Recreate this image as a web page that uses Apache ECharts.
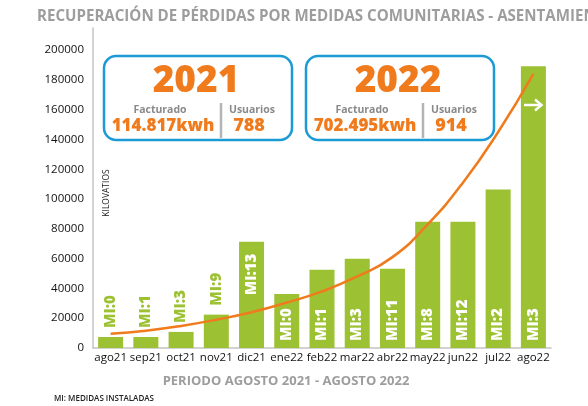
<!DOCTYPE html>
<html>
<head>
<meta charset="utf-8">
<script src="https://cdn.jsdelivr.net/npm/echarts@6/dist/echarts.min.js"></script>
<style>
  html, body { margin: 0; padding: 0; background: #fff; }
  #chart { width: 588px; height: 406px; }
</style>
</head>
<body>
<div id="chart"></div>
<script>
// data
const months = ['ago21', 'sep21', 'oct21', 'nov21', 'dic21', 'ene22', 'feb22', 'mar22', 'abr22', 'may22', 'jun22', 'jul22', 'ago22']
const kwh = [7400, 7400, 10800, 22400, 71400, 36200, 52500, 59900, 53200, 84800, 84800, 106400, 189200]
const medidas = [0, 1, 3, 9, 13, 0, 1, 3, 11, 8, 12, 2, 3]
const trend = [9600, 11600, 14800, 19000, 24000, 30500, 38000, 48000, 61000, 83000, 111000, 145000, 184000]
const yTicks = [0, 20000, 40000, 60000, 80000, 100000, 120000, 140000, 160000, 180000, 200000]

const years = ['2021', '2022']
const facturado = ['114.817kwh', '702.495kwh']
const usuarios = ['788', '914']

const font = '"Open Sans", sans-serif'
const green = '#9cc132'
const orange = '#f07b1d'
const blue = '#1b9ad6'
const gray = '#9d9d9d'

const barData = kwh.map((v, i) => {
  let label
  if (v < 30000) {
    label = { position: 'top', distance: 9, color: green }
  } else if (i === 4) {
    label = { position: 'insideTop', distance: 12, color: '#fff', align: 'right' }
  } else {
    label = { position: 'insideBottom', distance: 7, color: '#fff' }
  }
  return { value: v, label: label }
})

// summary boxes
function box(x, i) {
  const sep = x + 117
  return [
    { type: 'rect', shape: { x: x, y: 56, width: 188, height: 84, r: 12 },
      style: { fill: '#fff', stroke: blue, lineWidth: 2.5 }, z: 10 },
    { type: 'text', x: x + 92, y: 81, z: 11,
      style: { text: years[i], fill: orange, font: '800 37px ' + font, textAlign: 'center', textVerticalAlign: 'middle' } },
    { type: 'text', x: x + 56, y: 110, z: 11,
      style: { text: 'Facturado', fill: '#8a8a8a', font: 'bold 10.5px ' + font, textAlign: 'center', textVerticalAlign: 'middle' } },
    { type: 'text', x: x + 59, y: 126, z: 11,
      style: { text: facturado[i], fill: orange, font: '800 17px ' + font, textAlign: 'center', textVerticalAlign: 'middle' } },
    { type: 'line', shape: { x1: sep, y1: 103, x2: sep, y2: 138 }, z: 11,
      style: { stroke: '#b4b4b4', lineWidth: 2.5 } },
    { type: 'text', x: x + 148, y: 110, z: 11,
      style: { text: 'Usuarios', fill: '#8a8a8a', font: 'bold 10.5px ' + font, textAlign: 'center', textVerticalAlign: 'middle' } },
    { type: 'text', x: x + 145, y: 126, z: 11,
      style: { text: usuarios[i], fill: orange, font: '800 18px ' + font, textAlign: 'center', textVerticalAlign: 'middle' } }
  ]
}

const chart = echarts.init(document.getElementById('chart'))
chart.setOption({
  animation: false,
  textStyle: { fontFamily: font },
  title: {
    text: 'RECUPERACIÓN DE PÉRDIDAS POR MEDIDAS COMUNITARIAS - ASENTAMIENTOS',
    left: 32,
    top: 4,
    textStyle: { fontSize: 15.1, fontWeight: 'bold', color: gray, fontFamily: font }
  },
  grid: { left: 93, right: 37, top: 28, bottom: 58 },
  xAxis: {
    type: 'category',
    data: months,
    axisLine: { lineStyle: { color: '#c4c4c4', width: 1.5 } },
    axisTick: { show: false },
    axisLabel: { color: '#111', fontSize: 11.5, margin: 4, interval: 0 }
  },
  yAxis: {
    type: 'value',
    min: 0,
    max: 214800,
    interval: 20000,
    splitLine: { show: false },
    axisLine: { show: true, lineStyle: { color: '#c4c4c4', width: 1.5 } },
    axisTick: { show: false },
    axisLabel: {
      color: '#111', fontSize: 11.5, margin: 9, showMaxLabel: false,
      padding: [0, 0, 10, 0],
      formatter: v => (yTicks.includes(v) ? String(v) : '')
    }
  },
  series: [
    {
      type: 'bar',
      data: barData,
      barWidth: 25,
      itemStyle: { color: green },
      label: {
        show: true,
        rotate: 90,
        align: 'left',
        verticalAlign: 'middle',
        fontSize: 15,
        fontWeight: 800,
        fontFamily: font,
        formatter: p => 'MI:' + medidas[p.dataIndex]
      }
    },
    {
      type: 'line',
      data: trend,
      smooth: true,
      symbol: 'none',
      z: 5,
      lineStyle: { color: orange, width: 2.5 }
    }
  ],
  graphic: [
    ...box(104, 0),
    ...box(306, 1),
    { type: 'text', x: 107, y: 193, rotation: Math.PI / 2, z: 11,
      style: { text: 'KILOVATIOS', fill: '#222', font: '8.5px ' + font, textAlign: 'center', textVerticalAlign: 'middle' } },
    { type: 'text', x: 286, y: 381,
      style: { text: 'PERIODO AGOSTO 2021 - AGOSTO 2022', fill: gray, font: 'bold 13px ' + font, textAlign: 'center', textVerticalAlign: 'middle' } },
    { type: 'text', x: 54, y: 399,
      style: { text: 'MI: MEDIDAS INSTALADAS', fill: '#222', font: '600 8px ' + font, textAlign: 'left', textVerticalAlign: 'middle' } },
    // white arrow on the last bar
    { type: 'line', shape: { x1: 524, y1: 105, x2: 541, y2: 105 }, z: 12,
      style: { stroke: '#fff', lineWidth: 2.5 } },
    { type: 'polyline', shape: { points: [[535, 99.5], [541.5, 105], [535, 110.5]] }, z: 12,
      style: { stroke: '#fff', lineWidth: 2.5, fill: null } }
  ]
})
</script>
</body>
</html>
